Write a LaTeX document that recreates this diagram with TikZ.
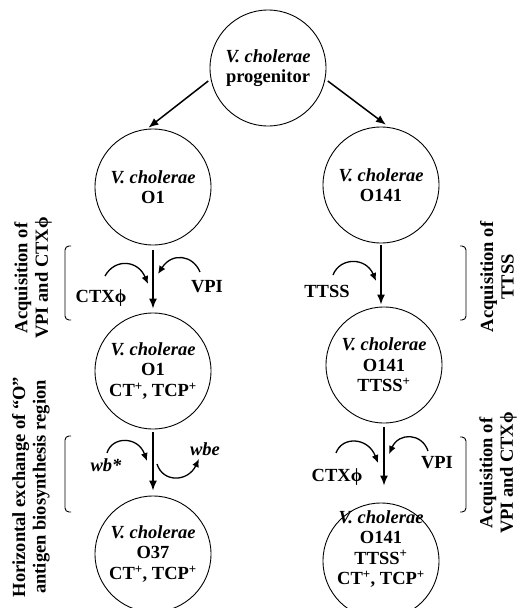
\documentclass[tikz,border=0pt]{standalone}
\usepackage{fontspec}
\setmainfont{Liberation Serif}
\usetikzlibrary{arrows.meta}

\begin{document}
\begin{tikzpicture}[x=1pt,y=-1pt,
  strain/.style={draw,circle,line width=0.9pt,minimum size=116pt,inner sep=0pt,align=center,font=\fontsize{18.5}{20.5}\selectfont\bfseries},
  lbl/.style={inner sep=0pt,font=\fontsize{18.5}{20.5}\selectfont\bfseries},
  side/.style={lbl,rotate=90,align=center},
  arr/.style={line width=1.5pt,-{Latex[length=10pt,width=8pt]}},
  swing/.style={line width=1.3pt,-{Latex[length=8pt,width=7pt]}},
  brk/.style={line width=0.9pt,rounded corners=4pt}]

\useasboundingbox (0,0) rectangle (523,608);
\clip (0,0) rectangle (523,608);

\node[strain] (prog) at (268,68) {\textit{V. cholerae}\\progenitor};
\node[strain] (o1) at (153,187) {\textit{V. cholerae}\\O1};
\node[strain] (o141) at (381,185) {\textit{V. cholerae}\\O141};
\node[strain] (o1ct) at (153,371) {\textit{V. cholerae}\\O1\\CT\textsuperscript{+}, TCP\textsuperscript{+}};
\node[strain] (o141tt) at (384,365) {\textit{V. cholerae}\\O141\\TTSS\textsuperscript{+}};
\node[strain] (o37) at (153,554) {\textit{V. cholerae}\\O37\\CT\textsuperscript{+}, TCP\textsuperscript{+}};
\node[strain] (o141ct) at (381,561) {};
\node[lbl,align=center] (o141cttext) at (381,549) {\textit{V. cholerae}\\O141\\TTSS\textsuperscript{+}\\CT\textsuperscript{+}, TCP\textsuperscript{+}};

\draw[arr,shorten <=3pt,shorten >=2pt] (prog.191) -- (o1.96);
\draw[arr,shorten <=3pt,shorten >=4pt] (prog.349) -- (o141.82);
\draw[arr,shorten <=5pt,shorten >=4pt] (o1) -- (o1ct);
\draw[arr,shorten <=2pt,shorten >=2pt] (o141.south) -- (o141.south |- o141tt.north);
\draw[arr,shorten <=3pt,shorten >=5pt] (o1ct) -- (o37);
\draw[arr,shorten <=4pt,shorten >=17pt] (o141tt.south) -- (o141tt.south |- o141ct.north);

\node[lbl,anchor=base] (ctx1) at (101,302) {CTXϕ};
\node[lbl,anchor=base] (vpi1) at (207,292) {VPI};
\node[lbl,anchor=base] (ttss1) at (327,297) {TTSS};
\node[lbl,anchor=base] (wbs) at (106,471) {\textit{wb*}};
\node[lbl,anchor=base] (wbe) at (205,455) {\textit{wbe}};
\node[lbl,anchor=base] (ctx2) at (337,481) {CTXϕ};
\node[lbl,anchor=base] (vpi2) at (437,468) {VPI};

\coordinate (ctx1s) at (105,276);
\coordinate (ctx1e) at (148,284);
\coordinate (vpi1s) at (200,272);
\coordinate (vpi1e) at (158,274);
\coordinate (ttss1s) at (333,275);
\coordinate (ttss1e) at (376,281);
\coordinate (wbss) at (107,453);
\coordinate (wbse) at (147,461);
\coordinate (wbes) at (157,464);
\coordinate (wbee) at (199,459);
\coordinate (ctx2s) at (336,453);
\coordinate (ctx2e) at (378,463);
\coordinate (vpi2s) at (428,451);
\coordinate (vpi2e) at (389,454);

\draw[swing] (ctx1s) .. controls +(10,-18) and +(-10,-24) .. (ctx1e);
\draw[swing] (vpi1s) .. controls +(-7,-17) and +(14,-22) .. (vpi1e);
\draw[swing] (ttss1s) .. controls +(7,-18) and +(-10,-24) .. (ttss1e);
\draw[swing] (wbss) .. controls +(5,-17) and +(-9,-25) .. (wbse);
\draw[swing] (wbes) .. controls +(6,19) and +(-11,23) .. (wbee);
\draw[swing] (ctx2s) .. controls +(6,-17) and +(-10,-26) .. (ctx2e);
\draw[swing] (vpi2s) .. controls +(-6,-18) and +(10,-22) .. (vpi2e);

\draw[brk] (71,246) -| (65,320) -- (71,320);
\draw[brk] (71,436) -| (65,512) -- (71,512);
\draw[brk] (460,246) -| (466,320) -- (460,320);
\draw[brk] (460,437) -| (466,512) -- (460,512);

\node[side] (acq1) at (33,278) {Acquisition of\\VPI and CTXϕ};
\node[side] (hex) at (31,487) {Horizontal exchange of “O”\\antigen biosynthesis region};
\node[side] (acq2) at (497,277) {Acquisition of\\TTSS};
\node[side] (acq3) at (498,473) {Acquisition of\\VPI and CTXϕ};
\end{tikzpicture}
\end{document}
